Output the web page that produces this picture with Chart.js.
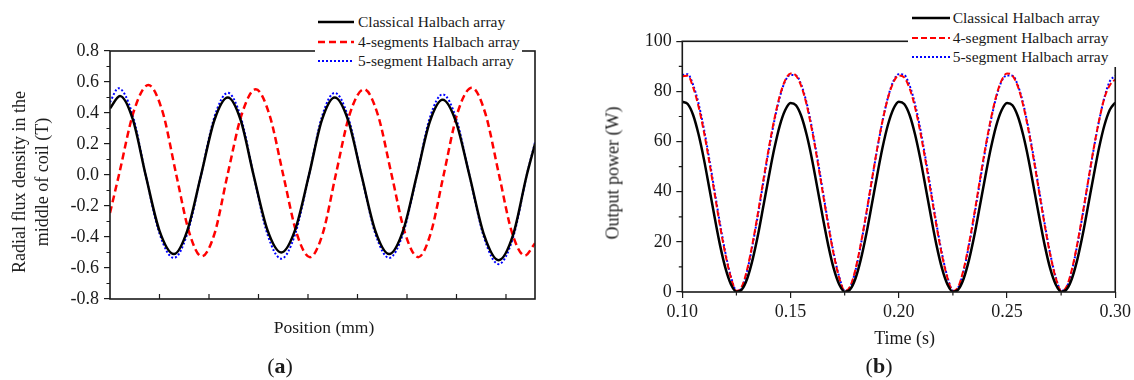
<!DOCTYPE html>
<html>
<head>
<meta charset="utf-8">
<title>Halbach array</title>
<script src="https://cdn.jsdelivr.net/npm/chart.js@4.4.1/dist/chart.umd.min.js"></script>
<style>
  body { margin: 0; background: #fff; }
  #page { position: relative; width: 1134px; height: 380px; overflow: hidden; background: #fff;
          font-family: "Liberation Serif", "Times New Roman", serif; color: #1a1a1a; }
  canvas { position: absolute; top: 0; }
  .txt { position: absolute; white-space: nowrap; transform: translate(-50%, -50%); font-size: 18px; line-height: 23px; text-align: center; }
  .rot { transform: translate(-50%, -50%) rotate(-90deg); }
  .legend { position: absolute; background: #fff; font-size: 15.5px; }
  .legend .row { height: 19.5px; display: flex; align-items: center; }
  .legend svg { display: block; }
  .panel { font-size: 22px; }
</style>
</head>
<body>
<div id="page">
  <canvas id="fluxChart" width="567" height="380" style="left:0;width:567px;height:380px"></canvas>
  <canvas id="powerChart" width="567" height="380" style="left:567px;width:567px;height:380px"></canvas>

  <div class="txt rot" style="left:30.5px;top:182px">Radial flux density in the<br>middle of coil (T)</div>
  <div class="txt" style="left:324px;top:327px;font-size:17.5px">Position (mm)</div>
  <div class="txt rot" style="left:613px;top:172.5px">Output power (W)</div>
  <div class="txt" style="left:904.6px;top:338px">Time (s)</div>
  <div class="txt panel" style="left:280px;top:365px">(<b>a</b>)</div>
  <div class="txt panel" style="left:879px;top:365px">(<b>b</b>)</div>

  <div id="fluxLegend" class="legend" style="left:315px;top:12.25px;width:204px;padding-left:3px"></div>
  <div id="powerLegend" class="legend" style="left:908px;top:8.5px;width:206px;padding-left:3.7px"></div>
</div>

<script>
// ---- (a) radial flux density vs position ----
var fluxLabels = ["Classical Halbach array", "4-segments Halbach array", "5-segment Halbach array"];

var posClassical = [0, 1.01, 2.3, 3.6, 5.0, 6.46, 7.8, 9.2, 10.55, 11.9, 13.2, 14.5, 15.9, 17.3, 18.7, 20.1, 21.4,
                    22.7, 24.05, 25.4, 26.8, 28.2, 29.6, 31.0, 32.3, 33.6, 34.95, 36.3, 37.8, 39.25, 40.7, 42.1, 42.93];
var fluxClassical = [0.43, 0.51, 0.36, 0, -0.36, -0.51, -0.36, 0, 0.355, 0.50, 0.354, 0, -0.354, -0.50, -0.354, 0, 0.354,
                     0.50, 0.354, 0, -0.36, -0.51, -0.36, 0, 0.343, 0.485, 0.343, 0, -0.39, -0.55, -0.39, 0, 0.2];

var posFour = [0, 0.9, 2.4, 3.87, 5.3, 6.7, 8.0, 9.26, 10.55, 11.87, 13.3, 14.72, 16.1, 17.5, 18.85, 20.2, 21.5,
               22.8, 24.2, 25.66, 27.05, 28.45, 29.8, 31.14, 32.4, 33.7, 35.1, 36.54, 37.9, 39.3, 40.6, 41.9, 42.93];
var fluxFour = [-0.245, 0, 0.41, 0.58, 0.41, 0, -0.37, -0.525, -0.38, 0, 0.39, 0.553, 0.39, 0, -0.375, -0.53, -0.375,
                0, 0.39, 0.553, 0.39, 0, -0.375, -0.53, -0.375, 0, 0.4, 0.563, 0.4, 0, -0.37, -0.52, -0.44];

var posFive = [0, 0.85, 2.25, 3.6, 5.0, 6.46, 7.8, 9.2, 10.55, 11.9, 13.2, 14.5, 15.9, 17.3, 18.7, 20.1, 21.4,
               22.7, 24.05, 25.4, 26.8, 28.2, 29.6, 31.0, 32.3, 33.6, 34.95, 36.3, 37.8, 39.25, 40.7, 42.1, 42.93];
var fluxFive = [0.47, 0.56, 0.395, 0, -0.378, -0.535, -0.38, 0, 0.375, 0.53, 0.375, 0, -0.382, -0.54, -0.382, 0, 0.375,
                0.53, 0.375, 0, -0.378, -0.535, -0.378, 0, 0.368, 0.52, 0.368, 0, -0.407, -0.575, -0.407, 0, 0.21];

var fluxMinorTicks = [-0.7, -0.5, -0.3, -0.1, 0.1, 0.3, 0.5, 0.7];
var posInnerTicks = [5, 10, 15, 20, 25, 30, 35, 40];

// ---- (b) output power vs time ----
var powerLabels = ["Classical Halbach array", "4-segment Halbach array", "5-segment Halbach array"];

var timeS = [0.1000, 0.1025, 0.1050, 0.1075, 0.1100, 0.1125, 0.1150, 0.1175, 0.1200, 0.1225,
             0.1250, 0.1275, 0.1300, 0.1325, 0.1350, 0.1375, 0.1400, 0.1425, 0.1450, 0.1475,
             0.1500, 0.1525, 0.1550, 0.1575, 0.1600, 0.1625, 0.1650, 0.1675, 0.1700, 0.1725,
             0.1750, 0.1775, 0.1800, 0.1825, 0.1850, 0.1875, 0.1900, 0.1925, 0.1950, 0.1975,
             0.2000, 0.2025, 0.2050, 0.2075, 0.2100, 0.2125, 0.2150, 0.2175, 0.2200, 0.2225,
             0.2250, 0.2275, 0.2300, 0.2325, 0.2350, 0.2375, 0.2400, 0.2425, 0.2450, 0.2475,
             0.2500, 0.2525, 0.2550, 0.2575, 0.2600, 0.2625, 0.2650, 0.2675, 0.2700, 0.2725,
             0.2750, 0.2775, 0.2800, 0.2825, 0.2850, 0.2875, 0.2900, 0.2925, 0.2950, 0.2975,
             0.3000];

var powerClassical = [75.9, 75.0, 70.6, 62.9, 52.9, 41.3, 29.5, 18.4, 9.3, 3.0,
                      0.1, 1.0, 5.4, 13.0, 22.9, 34.5, 46.2, 57.2, 66.3, 72.5,
                      75.4, 74.5, 70.1, 62.5, 52.6, 41.0, 29.3, 18.3, 9.2, 3.0,
                      0.1, 1.0, 5.4, 13.1, 23.1, 34.7, 46.5, 57.6, 66.7, 73.0,
                      75.9, 75.0, 70.6, 62.9, 52.9, 41.3, 29.5, 18.4, 9.3, 3.0,
                      0.1, 1.0, 5.4, 13.0, 22.9, 34.5, 46.2, 57.2, 66.3, 72.5,
                      75.4, 74.5, 70.1, 62.5, 52.6, 41.0, 29.3, 18.3, 9.2, 3.0,
                      0.1, 1.0, 5.4, 13.0, 23.0, 34.6, 46.3, 57.4, 66.5, 72.7,
                      75.6];

var powerFour = [86.0, 86.3, 81.6, 74.0, 63.8, 51.7, 38.8, 26.0, 14.6, 5.6,
                 0.4, 2.1, 9.2, 19.6, 31.8, 44.9, 57.6, 68.9, 78.1, 84.4,
                 87.2, 86.3, 82.0, 74.4, 64.1, 52.0, 39.0, 26.2, 14.7, 5.6,
                 0.4, 2.1, 9.1, 19.4, 31.5, 44.4, 57.1, 68.3, 77.4, 83.6,
                 86.4, 85.6, 81.2, 73.7, 63.5, 51.5, 38.7, 25.9, 14.5, 5.6,
                 0.4, 2.1, 9.2, 19.6, 31.8, 44.9, 57.6, 68.9, 78.1, 84.4,
                 87.2, 86.3, 82.0, 74.4, 64.1, 52.0, 39.0, 26.2, 14.7, 5.6,
                 0.4, 2.1, 9.1, 19.4, 31.5, 44.4, 57.1, 68.3, 77.4, 82.5,
                 84.8];

var powerFive = [86.5, 86.9, 82.6, 75.2, 65.0, 52.9, 39.9, 26.9, 15.2, 6.0,
                 0.5, 1.8, 8.6, 18.9, 31.0, 44.0, 56.8, 68.2, 77.6, 84.1,
                 86.6, 86.4, 82.6, 75.2, 65.0, 52.9, 39.9, 26.9, 15.2, 6.0,
                 0.5, 1.8, 8.6, 18.9, 31.0, 44.0, 56.8, 68.2, 77.6, 84.1,
                 86.9, 86.6, 82.4, 75.0, 64.8, 52.7, 39.8, 26.8, 15.1, 6.0,
                 0.5, 1.8, 8.6, 18.9, 31.0, 44.0, 56.8, 68.2, 77.6, 84.1,
                 86.4, 86.3, 82.5, 75.1, 64.9, 52.8, 39.8, 26.8, 15.1, 6.0,
                 0.5, 1.8, 8.6, 18.9, 31.0, 44.0, 56.8, 68.2, 77.6, 84.1,
                 86.2];

var powerMinorYTicks = [10, 30, 50, 70, 90];
var timeMinorTicks = [0.125, 0.175, 0.225, 0.275];

var ink = "#1a1a1a";
var serif = '"Liberation Serif", "Times New Roman", serif';
var tickFont = { family: serif, size: 18 };

function toPoints(xs, ys) {
    return xs.map(function (x, i) { return { x: x, y: ys[i] }; });
}

// box around the plot area, minor ticks and inward ticks
var framePlugin = {
    id: "frame",
    afterDraw: function (chart, args, opts) {
        var ctx = chart.ctx, a = chart.chartArea, sx = chart.scales.x, sy = chart.scales.y;
        ctx.save();
        ctx.strokeStyle = ink;
        ctx.lineWidth = 1.2;
        ctx.beginPath();
        (opts.yMinor || []).forEach(function (v) {
            var y = sy.getPixelForValue(v);
            ctx.moveTo(a.left - 3.5, y); ctx.lineTo(a.left, y);
        });
        (opts.xMinor || []).forEach(function (v) {
            var x = sx.getPixelForValue(v);
            ctx.moveTo(x, a.bottom); ctx.lineTo(x, a.bottom + 3.5);
        });
        (opts.xInner || []).forEach(function (v) {
            var x = sx.getPixelForValue(v);
            ctx.moveTo(x, a.bottom); ctx.lineTo(x, a.bottom - 5);
        });
        ctx.stroke();
        ctx.lineWidth = 1.6;
        ctx.strokeRect(a.left, a.top, a.right - a.left, a.bottom - a.top);
        ctx.restore();
    }
};

function buildLegend(chart, el, sampleWidth, gap) {
    chart.data.datasets.forEach(function (ds) {
        var row = document.createElement("div");
        row.className = "row";
        var dash = (ds.borderDash || []).join(" ");
        row.innerHTML = '<svg width="' + sampleWidth + '" height="8"><line x1="0" y1="4" x2="' + sampleWidth +
            '" y2="4" stroke="' + ds.borderColor + '" stroke-width="' + ds.borderWidth +
            '" stroke-dasharray="' + dash + '"/></svg><span style="margin-left:' + gap + 'px">' + ds.label + '</span>';
        el.appendChild(row);
    });
}

function drawCharts() {
    Chart.defaults.font.family = serif;
    Chart.defaults.color = ink;

    var fluxChart = new Chart(document.getElementById("fluxChart").getContext("2d"), {
        type: "line",
        data: {
            datasets: [
                { label: fluxLabels[0], data: toPoints(posClassical, fluxClassical), borderColor: "#000000", borderWidth: 2.5 },
                { label: fluxLabels[1], data: toPoints(posFour, fluxFour), borderColor: "#ff0000", borderWidth: 2.5, borderDash: [7, 4] },
                { label: fluxLabels[2], data: toPoints(posFive, fluxFive), borderColor: "#0000ff", borderWidth: 2, borderDash: [2, 2] }
            ]
        },
        options: {
            responsive: false,
            animation: false,
            devicePixelRatio: 1,
            layout: { padding: { left: 0, top: 51, right: 32, bottom: 0 } },
            elements: { point: { radius: 0 }, line: { cubicInterpolationMode: "monotone", fill: false } },
            plugins: {
                legend: { display: false },
                tooltip: { enabled: false },
                frame: { yMinor: fluxMinorTicks, xInner: posInnerTicks }
            },
            scales: {
                x: {
                    type: "linear", min: 0, max: 42.93,
                    grid: { display: false }, border: { display: false },
                    ticks: { display: false, stepSize: 5 },
                    afterFit: function (s) { s.height = 81; }
                },
                y: {
                    min: -0.8, max: 0.8,
                    ticks: {
                        stepSize: 0.2, color: ink, font: tickFont, padding: 5,
                        callback: function (v) { return Math.abs(v) < 1e-9 ? "0.0" : v.toFixed(1); }
                    },
                    grid: { drawOnChartArea: false, tickLength: 6, color: ink, lineWidth: 1.2 },
                    border: { display: false },
                    afterFit: function (s) { s.width = 110; }
                }
            }
        },
        plugins: [framePlugin]
    });

    var powerChart = new Chart(document.getElementById("powerChart").getContext("2d"), {
        type: "line",
        data: {
            datasets: [
                { label: powerLabels[0], data: toPoints(timeS, powerClassical), borderColor: "#000000", borderWidth: 2.5 },
                { label: powerLabels[1], data: toPoints(timeS, powerFour), borderColor: "#ff0000", borderWidth: 2, borderDash: [6, 3] },
                { label: powerLabels[2], data: toPoints(timeS, powerFive), borderColor: "#0000ff", borderWidth: 2, borderDash: [2, 2] }
            ]
        },
        options: {
            responsive: false,
            animation: false,
            devicePixelRatio: 1,
            layout: { padding: { left: 0, top: 41.3, right: 17, bottom: 0 } },
            elements: { point: { radius: 0 }, line: { cubicInterpolationMode: "monotone", fill: false } },
            plugins: {
                legend: { display: false },
                tooltip: { enabled: false },
                frame: { yMinor: powerMinorYTicks, xMinor: timeMinorTicks }
            },
            scales: {
                x: {
                    type: "linear", min: 0.1, max: 0.3,
                    ticks: {
                        stepSize: 0.05, color: ink, font: tickFont, padding: 3, maxRotation: 0,
                        callback: function (v) { return v.toFixed(2); }
                    },
                    grid: { drawOnChartArea: false, tickLength: 6, color: ink, lineWidth: 1.2 },
                    border: { display: false },
                    afterFit: function (s) { s.height = 88; }
                },
                y: {
                    min: 0, max: 100,
                    ticks: { stepSize: 20, color: ink, font: tickFont, padding: 4.6 },
                    grid: { drawOnChartArea: false, tickLength: 6, color: ink, lineWidth: 1.2 },
                    border: { display: false },
                    afterFit: function (s) { s.width = 115.3; }
                }
            }
        },
        plugins: [framePlugin]
    });

    buildLegend(fluxChart, document.getElementById("fluxLegend"), 36, 4);
    buildLegend(powerChart, document.getElementById("powerLegend"), 38, 3);
}

// make sure the serif face is ready before the canvas text is drawn
if (document.fonts && document.fonts.load) {
    document.fonts.load('18px "Liberation Serif"').then(drawCharts, drawCharts);
} else {
    drawCharts();
}
</script>
</body>
</html>
